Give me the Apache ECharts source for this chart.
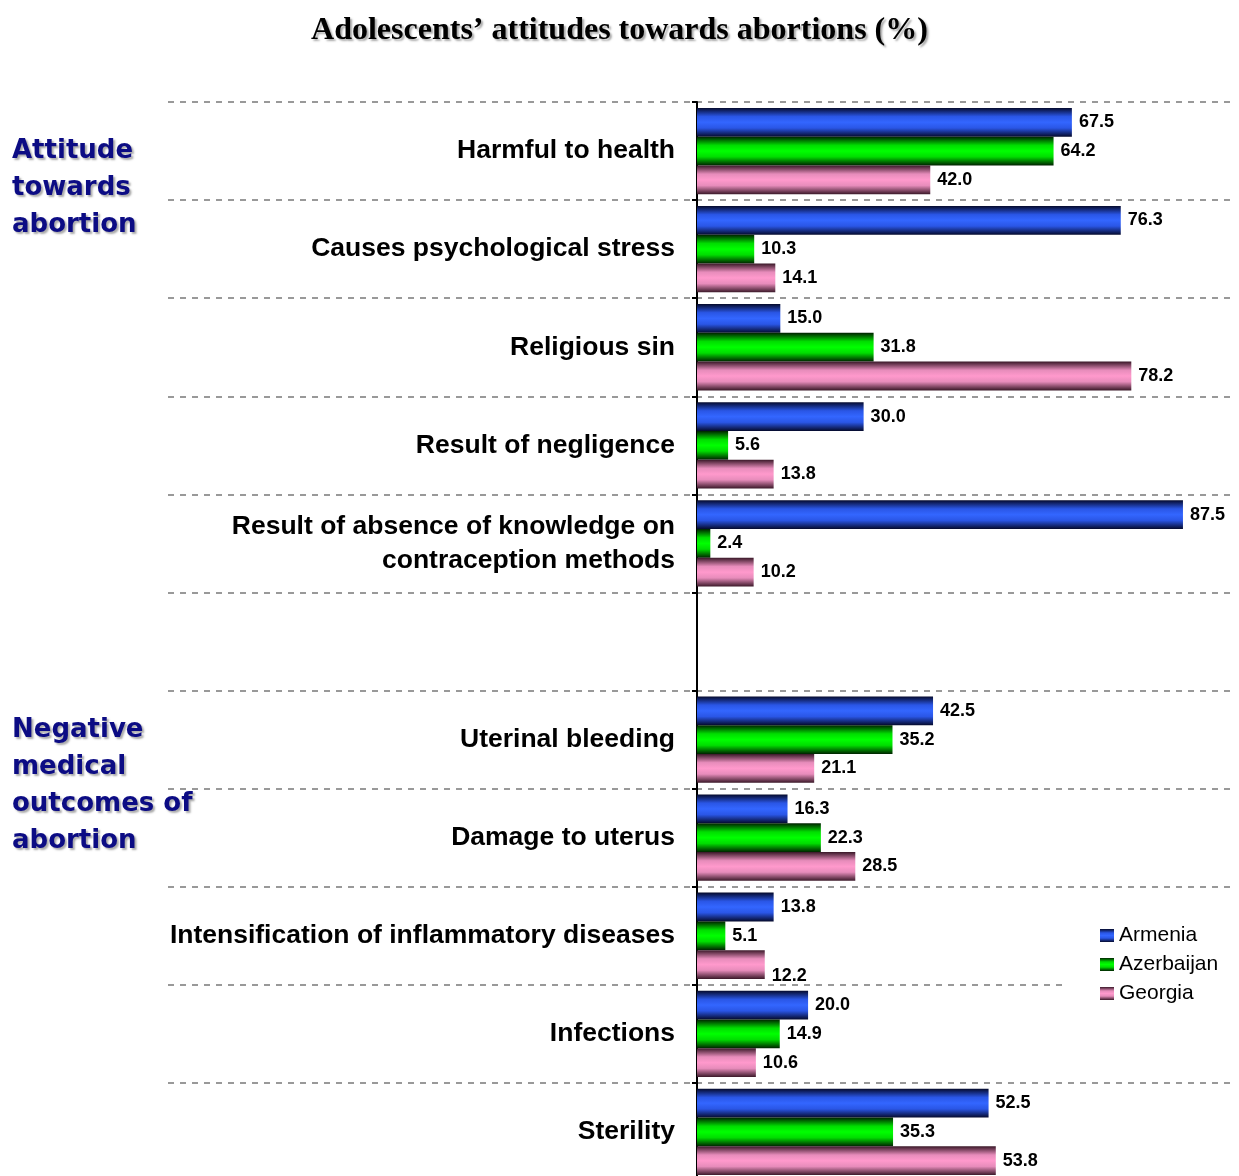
<!DOCTYPE html>
<html>
<head>
<meta charset="utf-8">
<script src="https://cdn.jsdelivr.net/npm/echarts@6/dist/echarts.min.js"></script>
<style>
  html, body { margin: 0; padding: 0; background: #fff; }
  #MyChart { width: 1239px; height: 1176px; }
</style>
</head>
<body>
<div id="MyChart"></div>
<script>
// categories, top to bottom (empty slot separates the two groups)
const categories = [
  'Harmful to health',
  'Causes psychological stress',
  'Religious sin',
  'Result of negligence',
  'Result of absence of knowledge on\ncontraception methods',
  '',
  'Uterinal bleeding',
  'Damage to uterus',
  'Intensification of inflammatory diseases',
  'Infections',
  'Sterility'
]
const armenia    = [67.5, 76.3, 15.0, 30.0, 87.5, '-', 42.5, 16.3, 13.8, 20.0, 52.5]
const azerbaijan = [64.2, 10.3, 31.8,  5.6,  2.4, '-', 35.2, 22.3,  5.1, 14.9, 35.3]
const georgia    = [42.0, 14.1, 78.2, 13.8, 10.2, '-', 21.1, 28.5, 12.2, 10.6, 53.8]
const groupTitles = ['Attitude\ntowards\nabortion', 'Negative\nmedical\noutcomes of\nabortion']

// 竖直方向的渐变，模拟圆柱效果
function tube(edge, mid, peak) {
  return new echarts.graphic.LinearGradient(0, 0, 0, 1, [
    { offset: 0, color: edge },
    { offset: 0.3, color: mid },
    { offset: 0.5, color: peak },
    { offset: 0.7, color: mid },
    { offset: 1, color: edge }
  ])
}

function barSeries(name, values, color) {
  return {
    name: name,
    type: 'bar',
    data: values,
    barGap: '0%',
    barCategoryGap: '12%',
    itemStyle: { color: color },
    label: {
      show: true,
      position: 'right',
      distance: 7,
      color: '#000',
      fontSize: 18,
      fontWeight: 'bold',
      fontFamily: 'Liberation Sans, Arial, sans-serif',
      formatter: p => Number(p.value).toFixed(1)
    }
  }
}

let georgiaSeries = barSeries('Georgia', georgia,
  tube('#3a1828', '#e78cbb', '#ff99cc'))
// 12.2 的标签在原图中略微下移
georgiaSeries.data = georgia.map((v, i) => i === 8 ? { value: v, label: { offset: [0, 11] } } : v)

let groupStyle = {
  fontFamily: 'DejaVu Sans, Verdana, sans-serif',
  fontSize: 26,
  fontWeight: 'bold',
  lineHeight: 37,
  color: '#0c0c84',
  textShadowColor: '#aaa',
  textShadowOffsetX: 2,
  textShadowOffsetY: 2,
  textShadowBlur: 2
}

let myChart = echarts.init(document.getElementById('MyChart'))
let option = {
  backgroundColor: '#fff',
  animation: false,
  title: [
    {
      text: 'Adolescents’ attitudes towards abortions (%)',
      left: 'center',
      top: 10,
      textStyle: {
        fontFamily: 'Liberation Serif, Times New Roman, serif',
        fontSize: 32,
        fontWeight: 'bold',
        color: '#000',
        textShadowColor: '#aaa',
        textShadowOffsetX: 2,
        textShadowOffsetY: 2,
        textShadowBlur: 2
      }
    },
    { text: groupTitles[0], left: 7, top: 128, textStyle: groupStyle },
    { text: groupTitles[1], left: 7, top: 707, textStyle: groupStyle }
  ],
  legend: {
    data: ['Armenia', 'Azerbaijan', 'Georgia'],
    orient: 'vertical',
    left: 1065,
    top: 919,
    padding: [6, 40, 6, 35],
    backgroundColor: '#fff',
    icon: 'rect',
    itemWidth: 14,
    itemHeight: 13,
    itemGap: 8,
    textStyle: {
      fontFamily: 'Liberation Sans, Arial, sans-serif',
      fontSize: 21,
      color: '#000'
    }
  },
  grid: {
    left: 168,
    right: 4,
    top: 102,
    bottom: -5,
    outerBoundsMode: 'none',
    containLabel: false
  },
  xAxis: {
    type: 'value',
    min: -95.25,
    max: 96.87,
    show: false,
    splitLine: { show: false }
  },
  yAxis: {
    type: 'category',
    inverse: true,
    data: categories,
    axisLine: {
      show: true,
      onZero: true,
      lineStyle: { color: '#000', width: 2 }
    },
    axisTick: {
      show: true,
      length: 5,
      lineStyle: { color: '#000', width: 2 }
    },
    axisLabel: {
      // 标签不随 onZero 移动，用负 margin 推到轴线左侧
      margin: -507,
      color: '#000',
      fontSize: 26.5,
      fontWeight: 'bold',
      lineHeight: 34,
      padding: [4, 0, 0, 0],
      align: 'right',
      fontFamily: 'Liberation Sans, Arial, sans-serif'
    },
    splitLine: {
      show: true,
      lineStyle: { color: '#999', width: 2, type: [6, 6] }
    }
  },
  series: [
    barSeries('Armenia', armenia, tube('#050a2c', '#2a56e6', '#3366ff')),
    barSeries('Azerbaijan', azerbaijan, tube('#002200', '#00dd00', '#00ff00')),
    georgiaSeries
  ]
}
myChart.setOption(option)
</script>
</body>
</html>
